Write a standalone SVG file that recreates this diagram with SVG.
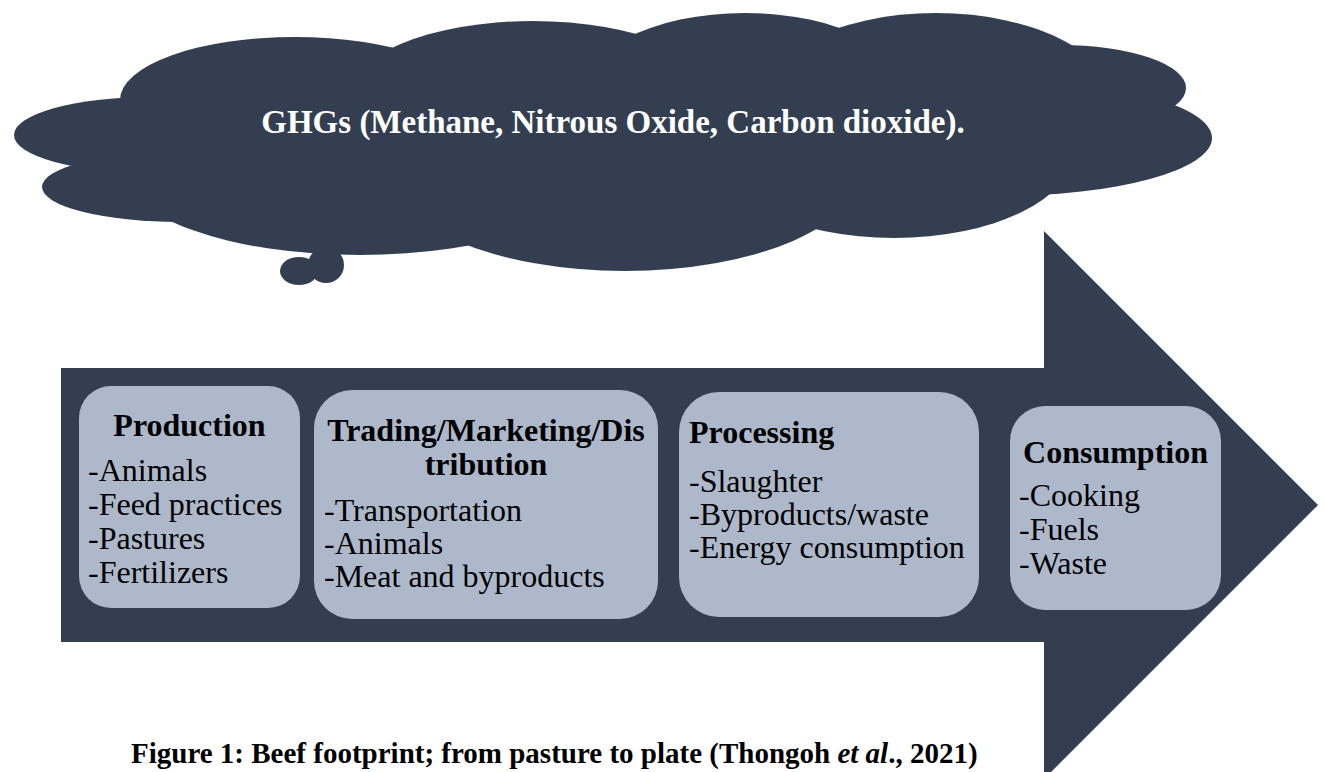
<svg xmlns="http://www.w3.org/2000/svg" width="1324" height="772" viewBox="0 0 1324 772">
<style>
.dark{fill:#333F50}
.box{fill:#ADB9CA}
</style>
<rect width="1324" height="772" fill="#fff"/>
<g id="cloud" class="dark">
<ellipse cx="150" cy="135" rx="136" ry="38"/>
<ellipse cx="180" cy="187" rx="138" ry="35"/>
<ellipse cx="295" cy="100" rx="175" ry="63"/>
<ellipse cx="533" cy="100" rx="188" ry="79"/>
<ellipse cx="745" cy="100" rx="169" ry="87"/>
<ellipse cx="936" cy="110" rx="183" ry="97"/>
<ellipse cx="1060" cy="88" rx="126" ry="43"/>
<ellipse cx="1000" cy="138" rx="212" ry="58"/>
<ellipse cx="894" cy="150" rx="180" ry="88"/>
<ellipse cx="625" cy="170" rx="236" ry="101"/>
<ellipse cx="360" cy="170" rx="237" ry="85"/>
<ellipse cx="620" cy="135" rx="520" ry="90"/>
<ellipse cx="326" cy="265" rx="18" ry="18"/>
<ellipse cx="299" cy="271" rx="19" ry="14"/>
<text x="613" y="133" text-anchor="middle" font-family="Liberation Serif" font-size="33" font-weight="bold" fill="#fff">GHGs (Methane, Nitrous Oxide, Carbon dioxide).</text>
</g>
<g id="arrow">
<path class="dark" d="M61,368 L1044,368 L1044,231 L1318,505 L1044,779 L1044,642 L61,642 Z"/>
</g>
<g id="production" font-family="Liberation Serif" font-size="32" fill="#000">
<rect class="box" x="79" y="386" width="221" height="222" rx="32" ry="32"/>
<text x="189.5" y="436" text-anchor="middle" font-family="Liberation Serif" font-weight="bold">Production</text>
<text x="88" y="481" font-family="Liberation Serif">-Animals</text>
<text x="88" y="515" font-family="Liberation Serif">-Feed practices</text>
<text x="88" y="549" font-family="Liberation Serif">-Pastures</text>
<text x="88" y="583" font-family="Liberation Serif">-Fertilizers</text>
</g>
<g id="trading" font-family="Liberation Serif" font-size="32" fill="#000">
<rect class="box" x="314" y="390" width="344" height="229" rx="38" ry="38"/>
<text x="486" y="441" text-anchor="middle" font-family="Liberation Serif" font-weight="bold">Trading/Marketing/Dis</text>
<text x="486" y="475" text-anchor="middle" font-family="Liberation Serif" font-weight="bold">tribution</text>
<text x="324" y="521" font-family="Liberation Serif">-Transportation</text>
<text x="324" y="554" font-family="Liberation Serif">-Animals</text>
<text x="324" y="587" font-family="Liberation Serif">-Meat and byproducts</text>
</g>
<g id="processing" font-family="Liberation Serif" font-size="32" fill="#000">
<rect class="box" x="679" y="392" width="300" height="225" rx="40" ry="40"/>
<text x="689" y="443" font-family="Liberation Serif" font-weight="bold">Processing</text>
<text x="689" y="492" font-family="Liberation Serif">-Slaughter</text>
<text x="689" y="525" font-family="Liberation Serif">-Byproducts/waste</text>
<text x="689" y="558" font-family="Liberation Serif">-Energy consumption</text>
</g>
<g id="consumption" font-family="Liberation Serif" font-size="32" fill="#000">
<rect class="box" x="1010" y="406" width="211" height="204" rx="35" ry="35"/>
<text x="1115.5" y="463" text-anchor="middle" font-family="Liberation Serif" font-weight="bold">Consumption</text>
<text x="1019" y="506" font-family="Liberation Serif">-Cooking</text>
<text x="1019" y="540" font-family="Liberation Serif">-Fuels</text>
<text x="1019" y="574" font-family="Liberation Serif">-Waste</text>
</g>
<g id="connectors"></g>
<text x="131" y="763" font-family="Liberation Serif" font-size="29" font-weight="bold" fill="#000">Figure 1: Beef footprint; from pasture to plate (Thongoh <tspan font-style="italic">et al</tspan>., 2021)</text>
</svg>
